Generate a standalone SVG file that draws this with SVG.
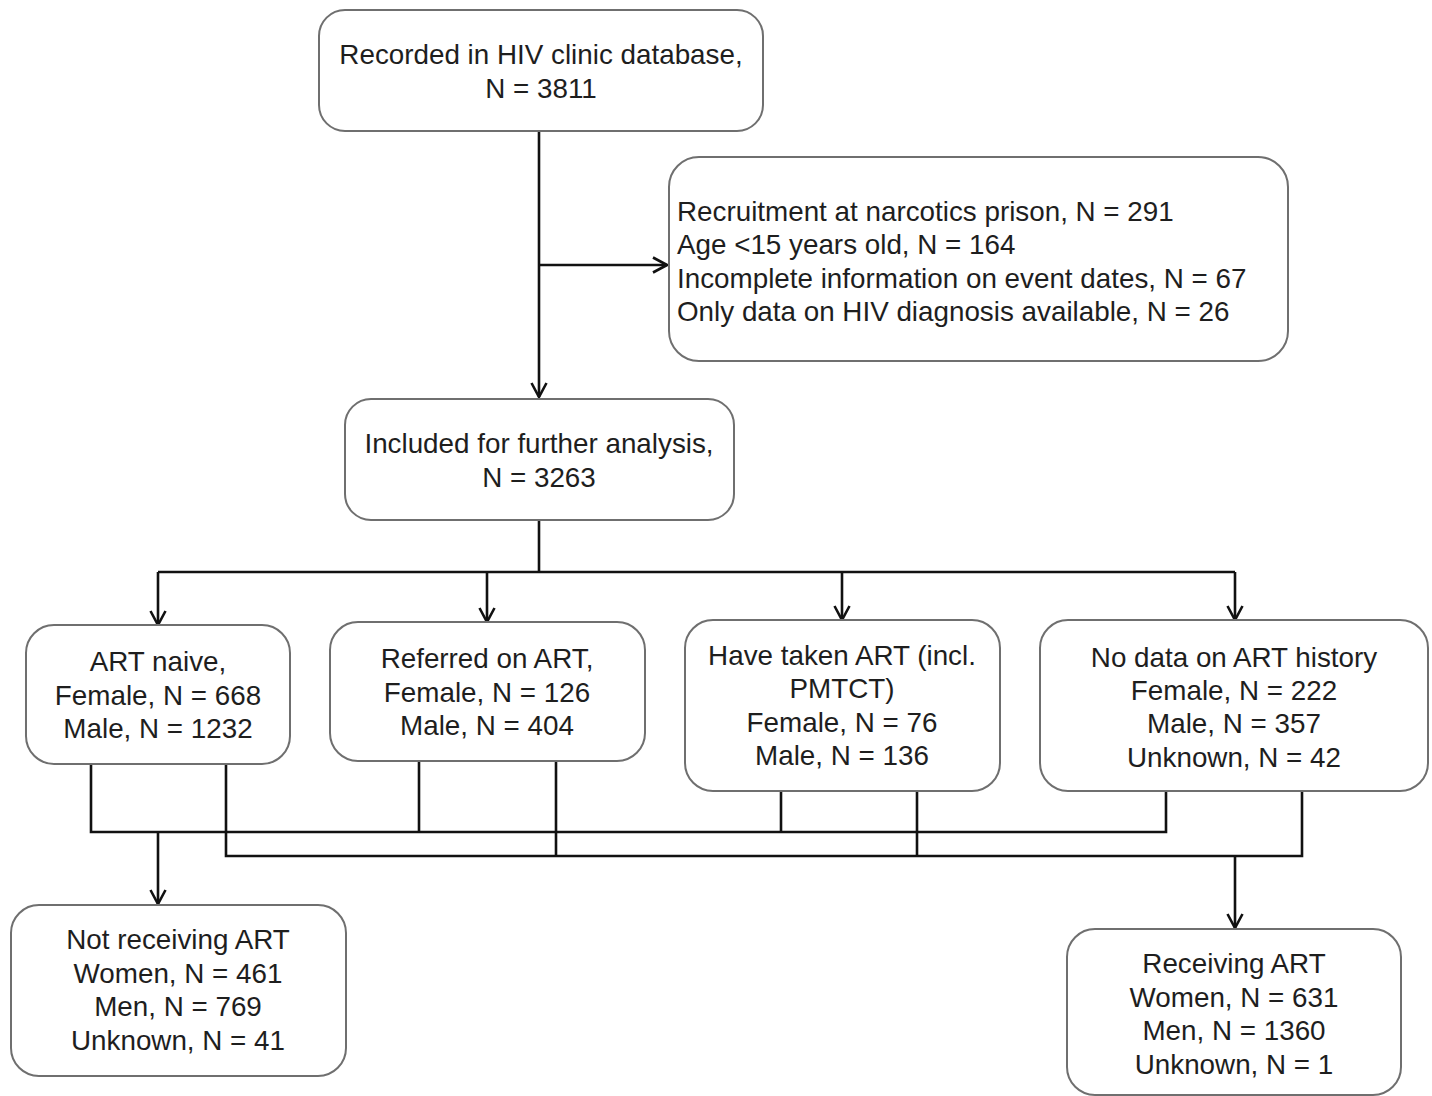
<svg xmlns="http://www.w3.org/2000/svg" width="1432" height="1096" viewBox="0 0 1432 1096">
<defs>
<marker id="arr" viewBox="0 0 18 18" refX="16" refY="9" markerWidth="18" markerHeight="18" markerUnits="userSpaceOnUse" orient="auto">
<path d="M2,1.5 L16,9 L2,16.5" fill="none" stroke="#111" stroke-width="2.6"/>
</marker>
</defs>
<style>
.box{fill:#fff;stroke:#6f6f6f;stroke-width:2}
.t{font-family:"Liberation Sans",Arial,sans-serif;font-size:27.8px;fill:#1e1e1e}
.c{text-anchor:middle}
.ln{fill:none;stroke:#111;stroke-width:2.6}
</style>
<rect width="1432" height="1096" fill="#fff"/>
<g id="connectors">
<path class="ln" d="M539,131 V397" marker-end="url(#arr)"/>
<path class="ln" d="M539,265 H667" marker-end="url(#arr)"/>
<path class="ln" d="M539,520 V572"/>
<path class="ln" d="M158,572 H1235"/>
<path class="ln" d="M158,572 V625" marker-end="url(#arr)"/>
<path class="ln" d="M487,572 V622" marker-end="url(#arr)"/>
<path class="ln" d="M842,572 V620" marker-end="url(#arr)"/>
<path class="ln" d="M1235,572 V620" marker-end="url(#arr)"/>
<path class="ln" d="M91,764 V832 H1166 V791"/>
<path class="ln" d="M419,761 V832"/>
<path class="ln" d="M781,791 V832"/>
<path class="ln" d="M226,764 V856 H1302 V791"/>
<path class="ln" d="M556,761 V856"/>
<path class="ln" d="M917,791 V856"/>
<path class="ln" d="M158,832 V904" marker-end="url(#arr)"/>
<path class="ln" d="M1235,856 V928" marker-end="url(#arr)"/>
</g>
<g id="n1">
<rect class="box" x="319" y="10" width="444" height="121" rx="26"/>
<text class="t c" x="541" y="64">Recorded in HIV clinic database,</text>
<text class="t c" x="541" y="98">N = 3811</text>
</g>
<g id="n2">
<rect class="box" x="669" y="157" width="619" height="204" rx="30"/>
<text class="t" x="677" y="221">Recruitment at narcotics prison, N = 291</text>
<text class="t" x="677" y="254">Age &lt;15 years old, N = 164</text>
<text class="t" x="677" y="288">Incomplete information on event dates, N = 67</text>
<text class="t" x="677" y="321">Only data on HIV diagnosis available, N = 26</text>
</g>
<g id="n3">
<rect class="box" x="345" y="399" width="389" height="121" rx="26"/>
<text class="t c" x="539" y="453">Included for further analysis,</text>
<text class="t c" x="539" y="487">N = 3263</text>
</g>
<g id="n4">
<rect class="box" x="26" y="625" width="264" height="139" rx="28"/>
<text class="t c" x="158" y="671">ART naive,</text>
<text class="t c" x="158" y="705">Female, N = 668</text>
<text class="t c" x="158" y="738">Male, N = 1232</text>
</g>
<g id="n5">
<rect class="box" x="330" y="622" width="315" height="139" rx="28"/>
<text class="t c" x="487" y="668">Referred on ART,</text>
<text class="t c" x="487" y="702">Female, N = 126</text>
<text class="t c" x="487" y="735">Male, N = 404</text>
</g>
<g id="n6">
<rect class="box" x="685" y="620" width="315" height="171" rx="28"/>
<text class="t c" x="842" y="665">Have taken ART (incl.</text>
<text class="t c" x="842" y="698">PMTCT)</text>
<text class="t c" x="842" y="732">Female, N = 76</text>
<text class="t c" x="842" y="765">Male, N = 136</text>
</g>
<g id="n7">
<rect class="box" x="1040" y="620" width="388" height="171" rx="28"/>
<text class="t c" x="1234" y="667">No data on ART history</text>
<text class="t c" x="1234" y="700">Female, N = 222</text>
<text class="t c" x="1234" y="733">Male, N = 357</text>
<text class="t c" x="1234" y="767">Unknown, N = 42</text>
</g>
<g id="n8">
<rect class="box" x="11" y="905" width="335" height="171" rx="28"/>
<text class="t c" x="178" y="949">Not receiving ART</text>
<text class="t c" x="178" y="983">Women, N = 461</text>
<text class="t c" x="178" y="1016">Men, N = 769</text>
<text class="t c" x="178" y="1050">Unknown, N = 41</text>
</g>
<g id="n9">
<rect class="box" x="1067" y="929" width="334" height="166" rx="28"/>
<text class="t c" x="1234" y="973">Receiving ART</text>
<text class="t c" x="1234" y="1007">Women, N = 631</text>
<text class="t c" x="1234" y="1040">Men, N = 1360</text>
<text class="t c" x="1234" y="1074">Unknown, N = 1</text>
</g>
</svg>
